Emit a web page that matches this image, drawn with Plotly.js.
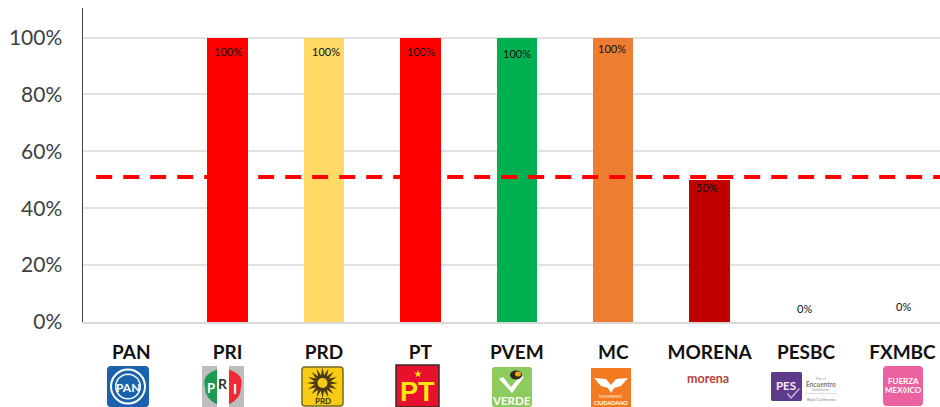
<!DOCTYPE html>
<html><head><meta charset="utf-8">
<script src="https://cdn.plot.ly/plotly-3.0.1.min.js"></script>
<style>html,body{margin:0;padding:0;background:#fff}#c{width:940px;height:407px}</style></head>
<body><div id="c"></div>
<script>
const categories=['PAN','PRI','PRD','PT','PVEM','MC','MORENA','PESBC','FXMBC'];
const shownValues=[null,100,100,100,100,100,50,null,null];
const labelValues=[null,100,100,100,100,100,50,0,0];
const barColors=['#ffffff','#ff0000','#ffd966','#ff0000','#00b050','#ed7d31','#c00000','#ffffff','#ffffff'];
const thresholdValue=51;
const yTicks=[0,20,40,60,80,100];

const W=940,H=407,L=83,T=8,B=322;
const px=x=>(x-L)/(W-L), py=y=>(B-y)/(B-T);
const idx=categories.map((_,i)=>i);
const shapes=[],annotations=[];
function rect(x0,y0,x1,y1,fill,lineCol,lw,r){
  r=r||0;
  const X0=px(x0),X1=px(x1),Y0=py(y0),Y1=py(y1);
  let path;
  if(r){const rx=r/(W-L),ry=r/(B-T);
    path=`M${X0+rx},${Y0} L${X1-rx},${Y0} Q${X1},${Y0} ${X1},${Y0-ry} L${X1},${Y1+ry} Q${X1},${Y1} ${X1-rx},${Y1} L${X0+rx},${Y1} Q${X0},${Y1} ${X0},${Y1+ry} L${X0},${Y0-ry} Q${X0},${Y0} ${X0+rx},${Y0} Z`;
  } else path=`M${X0},${Y0} L${X1},${Y0} L${X1},${Y1} L${X0},${Y1} Z`;
  shapes.push({type:'path',xref:'paper',yref:'paper',path,fillcolor:fill,line:{color:lineCol||fill,width:lw||0},layer:'above'});
}
function circ(cx,cy,rx,ry,fill,lineCol,lw){
  shapes.push({type:'circle',xref:'paper',yref:'paper',x0:px(cx-rx),x1:px(cx+rx),y0:py(cy+ry),y1:py(cy-ry),fillcolor:fill,line:{color:lineCol||fill,width:lw||0},layer:'above'});
}
function poly(pts,fill,lineCol,lw){
  shapes.push({type:'path',xref:'paper',yref:'paper',path:'M'+pts.map(p=>px(p[0])+','+py(p[1])).join(' L')+' Z',fillcolor:fill,line:{color:lineCol||fill,width:lw||0},layer:'above'});
}
function txt(x,y,text,size,color,bold,family){
  annotations.push({xref:'paper',yref:'paper',x:px(x),y:py(y),xanchor:'center',yanchor:'middle',showarrow:false,
    text:bold?'<b>'+text+'</b>':text,font:{size,color,family:family||'Lato, sans-serif'},borderpad:0,borderwidth:0});
}
// PAN
rect(107,366,149,407,'#1b62ad',null,0,4);
circ(128,386.5,17,17,'rgba(0,0,0,0)','#ffffff',2);
circ(128,386.5,13,13,'#ffffff');
circ(128,386.5,11.5,11.5,'#1b62ad');
txt(128,387,'PAN',12,'#ffffff',true,'"Liberation Sans Narrow", Lato');
// PRI
rect(202,366,217,407,'#bdbdbd');
rect(229,366,244,407,'#bdbdbd');
shapes.push({type:'path',xref:'paper',yref:'paper',path:`M${px(217)},${py(369.5)} L${px(229)},${py(369.5)} L${px(229)},${py(404.5)} L${px(217)},${py(404.5)} Z`,fillcolor:'#ffffff',line:{width:0},layer:'above'});
shapes.push({type:'path',xref:'paper',yref:'paper',path:`M${px(217)},${py(369.5)} Q${px(201)},${py(375)} ${px(205)},${py(387)} Q${px(205)},${py(399)} ${px(217)},${py(404.5)} Z`,fillcolor:'#1c9a52',line:{width:0},layer:'above'});
shapes.push({type:'path',xref:'paper',yref:'paper',path:`M${px(229)},${py(369.5)} Q${px(245)},${py(375)} ${px(241)},${py(387)} Q${px(241)},${py(399)} ${px(229)},${py(404.5)} Z`,fillcolor:'#ee2a36',line:{width:0},layer:'above'});
txt(211,388,'P',13,'#ffffff',true);
txt(223,383,'R',14,'#333333',true);
txt(235,388,'I',14,'#ffffff',true);
// PRD
rect(302,367,343,406,'#f8cc14','#7a6a20',1.5,3);
const sun=[];for(let i=0;i<32;i++){const a=i*Math.PI/16,r=i%2?8:15.5;sun.push([322.5+r*Math.sin(a),383+r*Math.cos(a)]);}
poly(sun,'#4a3b14');
circ(322.5,383,5,5,'#f8cc14');
txt(322.5,400.5,'PRD',8,'#3a3010',true);
// PT
rect(396,365,439,407,'#e8112d','#3a2a2a',1.5);
const star=[];for(let i=0;i<10;i++){const a=i*Math.PI/5,r=i%2?1.6:4;star.push([418+r*Math.sin(a),374-r*Math.cos(a)]);}
poly(star,'#fde910');
txt(417.5,392,'PT',27,'#fde910',true,'"Liberation Sans", Arial');
// PVEM
rect(492,367,532,407,'#8ccb5e',null,0,3);
poly([[499,379],[512,393],[524,377],[520,376],[511,387],[503,377]],'#ffffff');
circ(516,375,6,4.5,'#2f2a1c');
circ(518,374,3,2.5,'#f2a81d');
txt(512,400.5,'VERDE',11.5,'#ffffff',true);
// MC
rect(591,368,631,407,'#f47a20');
poly([[594,378],[606,379],[611,385],[616,379],[628,378],[621,386],[614,388],[611,393],[608,388],[601,386]],'#ffffff');
txt(611,396.5,'MOVIMIENTO',3.5,'#ffe3cc',true);
txt(611,402.5,'CIUDADANO',5.5,'#ffffff',true);
// morena
txt(708,378.5,'morena',12.5,'#b4443c',true);
// PES
rect(771,372,802,401,'#5e3a8c',null,0,1.5);
txt(786,385,'PES',11.5,'#f4eef9',true);
poly([[788,393],[791,397],[799,388],[800,389],[791,399],[787,394]],'#cbb9de');
txt(821,378,'Por el',4,'#9a9a9a',false);
txt(821,384,'Encuentro',6.5,'#777777',true);
txt(821,389,'Solidario',4.5,'#999999',false);
rect(806,393,837,393.6,'#c9bcd8');
txt(821,399,'Baja California',4.5,'#888888',false);
// Fuerza Mexico
rect(883,366,923,406,'#ec619f',null,0,4);
txt(903,381,'FUERZA',8,'#ffffff',true);
txt(903,390,'MEX◊ICO',8,'#ffffff',true);

// value labels
const labelShift=[0,-14,-14,-14,-16,-11,-8,14,16];
const labelDx=[0,0,2,1,0,-1,-3,-2,1];
labelValues.forEach((v,i)=>{ if(v===null)return;
  annotations.push({xref:'x',yref:'y',x:i,y:v,text:v+'%',showarrow:false,xanchor:'center',yanchor:'middle',
    yshift:labelShift[i],xshift:labelDx[i],font:{size:11,color:'#111111',family:'Lato, sans-serif'}});
});

const traces=[
 {type:'bar',x:idx,y:shownValues,marker:{color:barColors,line:{width:0}},width:0.42,hoverinfo:'x+y',showlegend:false},
 {type:'scatter',mode:'lines',x:[-0.363,8.39],y:[thresholdValue,thresholdValue],line:{color:'#ff0000',width:4,dash:'16px,11px'},hoverinfo:'skip',showlegend:false}
];
const layout={
 width:W,height:H,margin:{l:L,r:0,t:T,b:H-B,pad:0},paper_bgcolor:'#fff',plot_bgcolor:'#fff',
 showlegend:false,bargap:0,
 font:{family:'Lato, sans-serif'},
 xaxis:{type:'linear',range:[-0.5,(W-L)/96.4-0.5],tickmode:'array',tickvals:idx,ticktext:categories.map(c=>'<b>'+c+'</b>'),
   tickfont:{size:19,color:'#111',family:'Lato, sans-serif'},ticks:'',showgrid:false,zeroline:false,showline:true,linecolor:'#d9d9d9',linewidth:1.5,ticklabelstandoff:13,fixedrange:true},
 yaxis:{range:[0,110.4],tickmode:'array',tickvals:yTicks,ticktext:yTicks.map(v=>v+'%'),tickfont:{size:21,color:'#404040',family:'Lato, sans-serif'},
   ticks:'',showgrid:true,gridcolor:'#e2e2e2',gridwidth:2,zeroline:false,showline:true,linecolor:'#404040',linewidth:1.5,ticklabelstandoff:15,fixedrange:true},
 shapes,annotations
};
Plotly.newPlot('c',traces,layout,{displayModeBar:false,staticPlot:true});
</script></body></html>
